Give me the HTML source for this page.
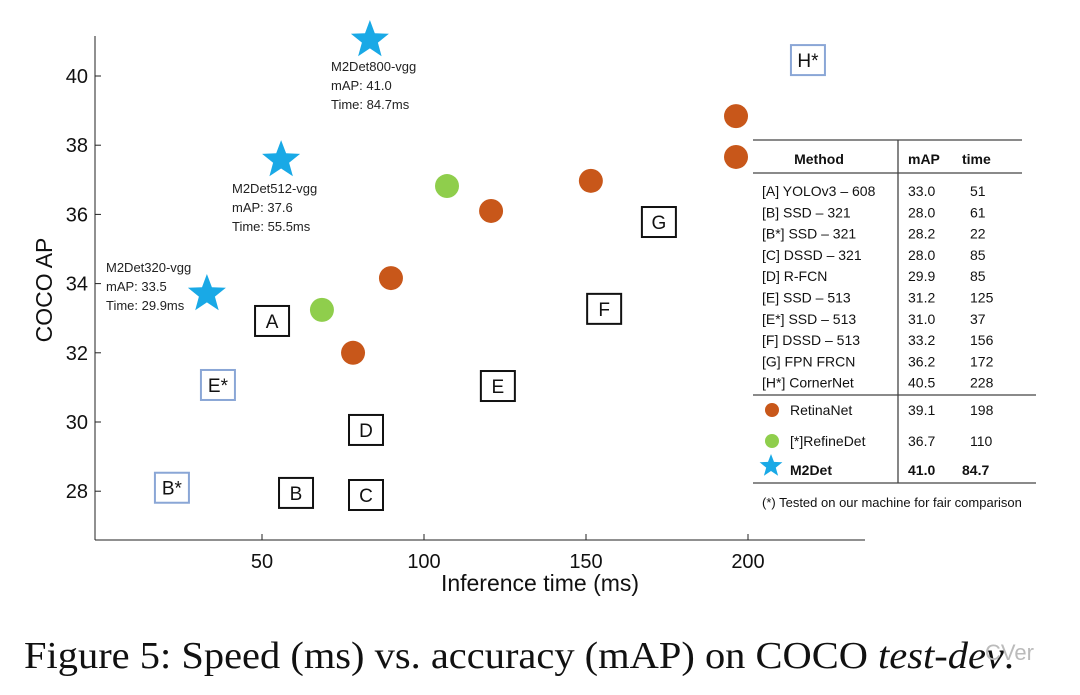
<!DOCTYPE html>
<html><head><meta charset="utf-8"><style>
body{margin:0;background:#fff;width:1080px;height:695px;overflow:hidden}
svg{display:block}
</style></head><body>
<svg id="c" width="1080" height="695" xmlns="http://www.w3.org/2000/svg" font-family="Liberation Sans, sans-serif">
</svg>
<script>
const xTicks=[50,100,150,200];
const yTicks=[28,30,32,34,36,38,40];
const starNames=["M2Det320-vgg","M2Det512-vgg","M2Det800-vgg"];
const starX=[33,55.9,83.3];
const starY=[33.7,37.57,41.04];
const starMap=["33.5","37.6","41.0"];
const starTime=["29.9ms","55.5ms","84.7ms"];
const greenX=[68.5,107.1];
const greenY=[33.24,36.82];
const orangeX=[78.1,89.8,120.7,151.5,196.3,196.3];
const orangeY=[32.0,34.16,36.1,36.97,38.84,37.66];
const boxLabels=["A","B","C","D","E","F","G"];
const boxX=[53.1,60.5,82.1,82.1,122.8,155.6,172.5];
const boxY=[32.92,27.95,27.89,29.77,31.04,33.27,35.78];
const blueLabels=["B*","E*","H*"];
const blueX=[22.2,36.4,218.5];
const blueY=[28.1,31.07,40.46];
const tMethods=["[A] YOLOv3 – 608","[B] SSD – 321","[B*] SSD – 321","[C] DSSD – 321","[D] R-FCN","[E] SSD – 513","[E*] SSD – 513","[F] DSSD – 513","[G] FPN FRCN","[H*] CornerNet"];
const tMap=["33.0","28.0","28.2","28.0","29.9","31.2","31.0","33.2","36.2","40.5"];
const tTime=["51","61","22","85","85","125","37","156","172","228"];

const svg=document.getElementById('c');
const NS="http://www.w3.org/2000/svg";
const X=v=>100+v*3.24;
const Y=v=>76+(40-v)*34.6;
function el(tag,attrs,text){const e=document.createElementNS(NS,tag);for(const k in attrs)e.setAttribute(k,attrs[k]);if(text!==undefined)e.textContent=text;svg.appendChild(e);return e;}
let e;
e=el('line',{x1:95,y1:36,x2:95,y2:540,stroke:'#222','stroke-width':1});


e=el('line',{x1:95,y1:540,x2:865,y2:540,stroke:'#222','stroke-width':1});


xTicks.forEach(t=>{el('line',{x1:X(t),y1:540,x2:X(t),y2:534,stroke:'#222'});
e=el('text',{x:X(t),y:568,'font-size':20,'text-anchor':'middle',fill:'#111'},t);

});
yTicks.forEach(t=>{el('line',{x1:95,y1:Y(t),x2:101,y2:Y(t),stroke:'#222'});
e=el('text',{x:88,y:Y(t)+7,'font-size':20,'text-anchor':'end',fill:'#111'},t);

});
e=el('text',{x:540,y:591,'font-size':23,'text-anchor':'middle',fill:'#111'},'Inference time (ms)');


e=el('text',{x:52,y:290,'font-size':23,'text-anchor':'middle',fill:'#111',transform:'rotate(-90 52 290)'},'COCO AP');



function starPath(cx,cy,R){const r=R*0.42;let p='';for(let i=0;i<10;i++){const a=-Math.PI/2+i*Math.PI/5;const rr=i%2?r:R;p+=(i?'L':'M')+(cx+rr*Math.cos(a)).toFixed(1)+' '+(cy+rr*Math.sin(a)).toFixed(1);}return p+'Z';}
boxLabels.forEach((l,i)=>{const cx=X(boxX[i]),cy=Y(boxY[i]);
e=el('rect',{x:cx-17,y:cy-15,width:34,height:30,fill:'#fff',stroke:'#111','stroke-width':2});


el('text',{x:cx,y:cy+7,'font-size':19,'text-anchor':'middle',fill:'#111'},l);});
blueLabels.forEach((l,i)=>{const cx=X(blueX[i]),cy=Y(blueY[i]);
e=el('rect',{x:cx-17,y:cy-15,width:34,height:30,fill:'#fff',stroke:'#8aa6d6','stroke-width':2});


el('text',{x:cx,y:cy+7,'font-size':19,'text-anchor':'middle',fill:'#111'},l);});
orangeX.forEach((v,i)=>{e=el('circle',{cx:X(v),cy:Y(orangeY[i]),r:12,fill:'#c8571a'});

});
greenX.forEach((v,i)=>{e=el('circle',{cx:X(v),cy:Y(greenY[i]),r:12,fill:'#8fce4c'});

});
starX.forEach((v,i)=>{const cx=X(v),cy=Y(starY[i]);
e=el('path',{d:starPath(cx,cy,20),fill:'#19a9e6'});


const lx=[106,232,331][i],ly=[cy-22,cy+33,cy+31][i];
[starNames[i],'mAP: '+starMap[i],'Time: '+starTime[i]].forEach((s,j)=>{
e=el('text',{x:lx,y:ly+j*19,'font-size':13,fill:'#222'},s);

});});

// table
const L=(x1,y1,x2,y2)=>el('line',{x1,y1,x2,y2,stroke:'#444','stroke-width':1.3});
L(753,140,1022,140);L(753,173,1022,173);L(898,140,898,483);L(753,395,1036,395);L(753,483,1036,483);
el('text',{x:819,y:164,'font-size':14,'font-weight':'bold','text-anchor':'middle',fill:'#111'},'Method');
el('text',{x:908,y:164,'font-size':14,'font-weight':'bold',fill:'#111'},'mAP');
el('text',{x:962,y:164,'font-size':14,'font-weight':'bold',fill:'#111'},'time');
tMethods.forEach((m,i)=>{const y=196+i*21.3;
e=el('text',{x:762,y,'font-size':14,fill:'#111'},m);


el('text',{x:908,y,'font-size':14,fill:'#111'},tMap[i]);
el('text',{x:970,y,'font-size':14,fill:'#111'},tTime[i]);});
el('circle',{cx:772,cy:410,r:7,fill:'#c8571a'});
el('text',{x:790,y:415,'font-size':14,fill:'#111'},'RetinaNet');
el('text',{x:908,y:415,'font-size':14,fill:'#111'},'39.1');
el('text',{x:970,y:415,'font-size':14,fill:'#111'},'198');
el('circle',{cx:772,cy:441,r:7,fill:'#8fce4c'});
el('text',{x:790,y:446,'font-size':14,fill:'#111'},'[*]RefineDet');
el('text',{x:908,y:446,'font-size':14,fill:'#111'},'36.7');
el('text',{x:970,y:446,'font-size':14,fill:'#111'},'110');
el('path',{d:starPath(771,466,12),fill:'#19a9e6'});
el('text',{x:790,y:475,'font-size':14,'font-weight':'bold',fill:'#111'},'M2Det');
el('text',{x:908,y:475,'font-size':14,'font-weight':'bold',fill:'#111'},'41.0');
el('text',{x:962,y:475,'font-size':14,'font-weight':'bold',fill:'#111'},'84.7');
el('text',{x:762,y:507,'font-size':13,fill:'#111'},'(*) Tested on our machine for fair comparison');
e=el('text',{x:24,y:668,'font-size':38,'font-family':'Liberation Serif, serif',fill:'#111',textLength:990,lengthAdjust:'spacingAndGlyphs'},'');


e.innerHTML='Figure 5: Speed (ms) vs. accuracy (mAP) on COCO <tspan font-style="italic">test-dev</tspan>.';
e=el('text',{x:985,y:660,'font-size':22,fill:'#bbb'},'CVer');


</script>
</body></html>
